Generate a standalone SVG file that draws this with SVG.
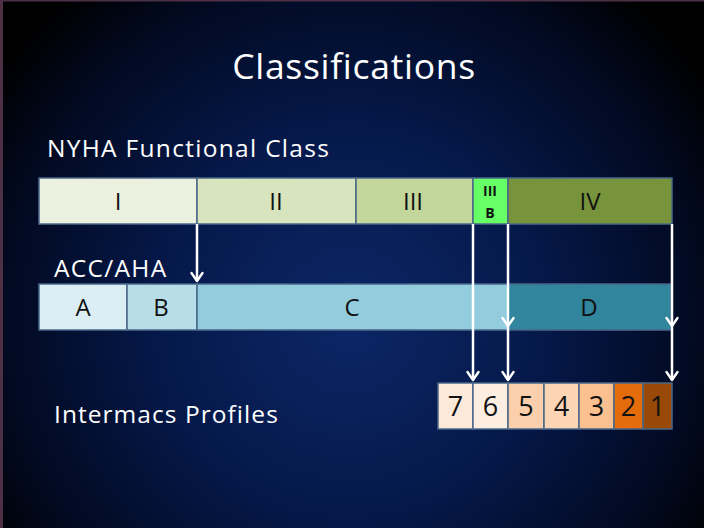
<svg xmlns="http://www.w3.org/2000/svg" width="704" height="528" viewBox="0 0 704 528">
  <defs>
    <radialGradient id="bg" cx="350" cy="320" r="430" gradientUnits="userSpaceOnUse">
      <stop offset="0" stop-color="#0c2767"/>
      <stop offset="0.45" stop-color="#051849"/>
      <stop offset="0.8" stop-color="#020a22"/>
      <stop offset="1" stop-color="#000000"/>
    </radialGradient>
    <!-- open chevron arrowhead, drawn along +x so orient="auto" turns it down the line -->
    <marker id="arrow" viewBox="0 0 12 14" refX="10" refY="7" markerWidth="12" markerHeight="14" markerUnits="userSpaceOnUse" orient="auto">
      <path d="M2,1.5 L10,7 L2,12.5" fill="none" stroke="#ffffff" stroke-width="2.4" stroke-linecap="round" stroke-linejoin="round"/>
    </marker>
    <style>
      .cell { stroke: #4a6789; stroke-width: 1.5; }
      .lbl { font-family: "Open Sans", "Liberation Sans", sans-serif; fill: #111111; text-anchor: middle; font-size: 24px; }
      .num { font-size: 27px; }
      .tiny { font-size: 14px; font-weight: bold; }
      .head { font-family: "Open Sans", "Liberation Sans", sans-serif; fill: #ffffff; font-size: 24.5px; letter-spacing: 1.3px; }
      .conn { stroke: #ffffff; stroke-width: 2.5; fill: none; }
    </style>
  </defs>

  <!-- backdrop with thin frame on the left and top -->
  <rect x="0" y="0" width="704" height="528" fill="url(#bg)"/>
  <rect x="0" y="0" width="3" height="528" fill="#4d3046"/>
  <rect x="0" y="0" width="704" height="1.5" fill="#4d3046"/>

  <text class="head" x="354" y="79" style="font-size:35.5px;letter-spacing:0.7px" text-anchor="middle">Classifications</text>
  <text class="head" x="47" y="157">NYHA Functional Class</text>
  <text class="head" x="54" y="277">ACC/AHA</text>
  <text class="head" x="54" y="423" style="letter-spacing:1.05px">Intermacs Profiles</text>

  <!-- NYHA functional class bar -->
  <g id="nyha-I"><rect class="cell" x="39" y="178" width="158" height="46" fill="#ebf1de"/><text class="lbl" x="118" y="210">I</text></g>
  <g id="nyha-II"><rect class="cell" x="197" y="178" width="159" height="46" fill="#d7e4bd"/><text class="lbl" x="276" y="210">II</text></g>
  <g id="nyha-III"><rect class="cell" x="356" y="178" width="117" height="46" fill="#c3d69b"/><text class="lbl" x="413" y="210">III</text></g>
  <g id="nyha-IIIB"><rect class="cell" x="473" y="178" width="35" height="46" fill="#66ff66"/><text class="lbl tiny" x="490" y="196">III</text><text class="lbl tiny" x="490" y="218">B</text></g>
  <g id="nyha-IV"><rect class="cell" x="508" y="178" width="164" height="46" fill="#77933c"/><text class="lbl" x="590" y="210">IV</text></g>

  <!-- ACC/AHA stage bar -->
  <g id="acc-A"><rect class="cell" x="39" y="284" width="88" height="46" fill="#dbeef4"/><text class="lbl" x="83" y="316">A</text></g>
  <g id="acc-B"><rect class="cell" x="127" y="284" width="70" height="46" fill="#b7dee8"/><text class="lbl" x="161" y="316">B</text></g>
  <g id="acc-C"><rect class="cell" x="197" y="284" width="311" height="46" fill="#93cddd"/><text class="lbl" x="352" y="316">C</text></g>
  <g id="acc-D"><rect class="cell" x="508" y="284" width="163" height="46" fill="#31859c"/><text class="lbl" x="589" y="316">D</text></g>

  <!-- Intermacs profiles -->
  <g id="im-7"><rect class="cell" x="438" y="383" width="35" height="46" fill="#fde9d9"/><text class="lbl num" x="455.5" y="416">7</text></g>
  <g id="im-6"><rect class="cell" x="473" y="383" width="35" height="46" fill="#feeee2"/><text class="lbl num" x="490.5" y="416">6</text></g>
  <g id="im-5"><rect class="cell" x="508" y="383" width="36" height="46" fill="#fbcfab"/><text class="lbl num" x="526" y="416">5</text></g>
  <g id="im-4"><rect class="cell" x="544" y="383" width="35" height="46" fill="#fcd5b5"/><text class="lbl num" x="561.5" y="416">4</text></g>
  <g id="im-3"><rect class="cell" x="579" y="383" width="35" height="46" fill="#fac090"/><text class="lbl num" x="596.5" y="416">3</text></g>
  <g id="im-2"><rect class="cell" x="614" y="383" width="29" height="46" fill="#e46c0a"/><text class="lbl num" x="628.5" y="416">2</text></g>
  <g id="im-1"><rect class="cell" x="643" y="383" width="29" height="46" fill="#984807"/><text class="lbl num" x="657.5" y="416">1</text></g>

  <!-- connectors -->
  <g id="connectors">
    <path class="conn" d="M197,224 V281" marker-end="url(#arrow)"/>
    <path class="conn" d="M473,224 V380" marker-end="url(#arrow)"/>
    <path class="conn" d="M508,224 V326" marker-end="url(#arrow)"/>
    <path class="conn" d="M508,326 V380" marker-end="url(#arrow)"/>
    <path class="conn" d="M672,224 V326" marker-end="url(#arrow)"/>
    <path class="conn" d="M672,326 V380" marker-end="url(#arrow)"/>
  </g>
</svg>
